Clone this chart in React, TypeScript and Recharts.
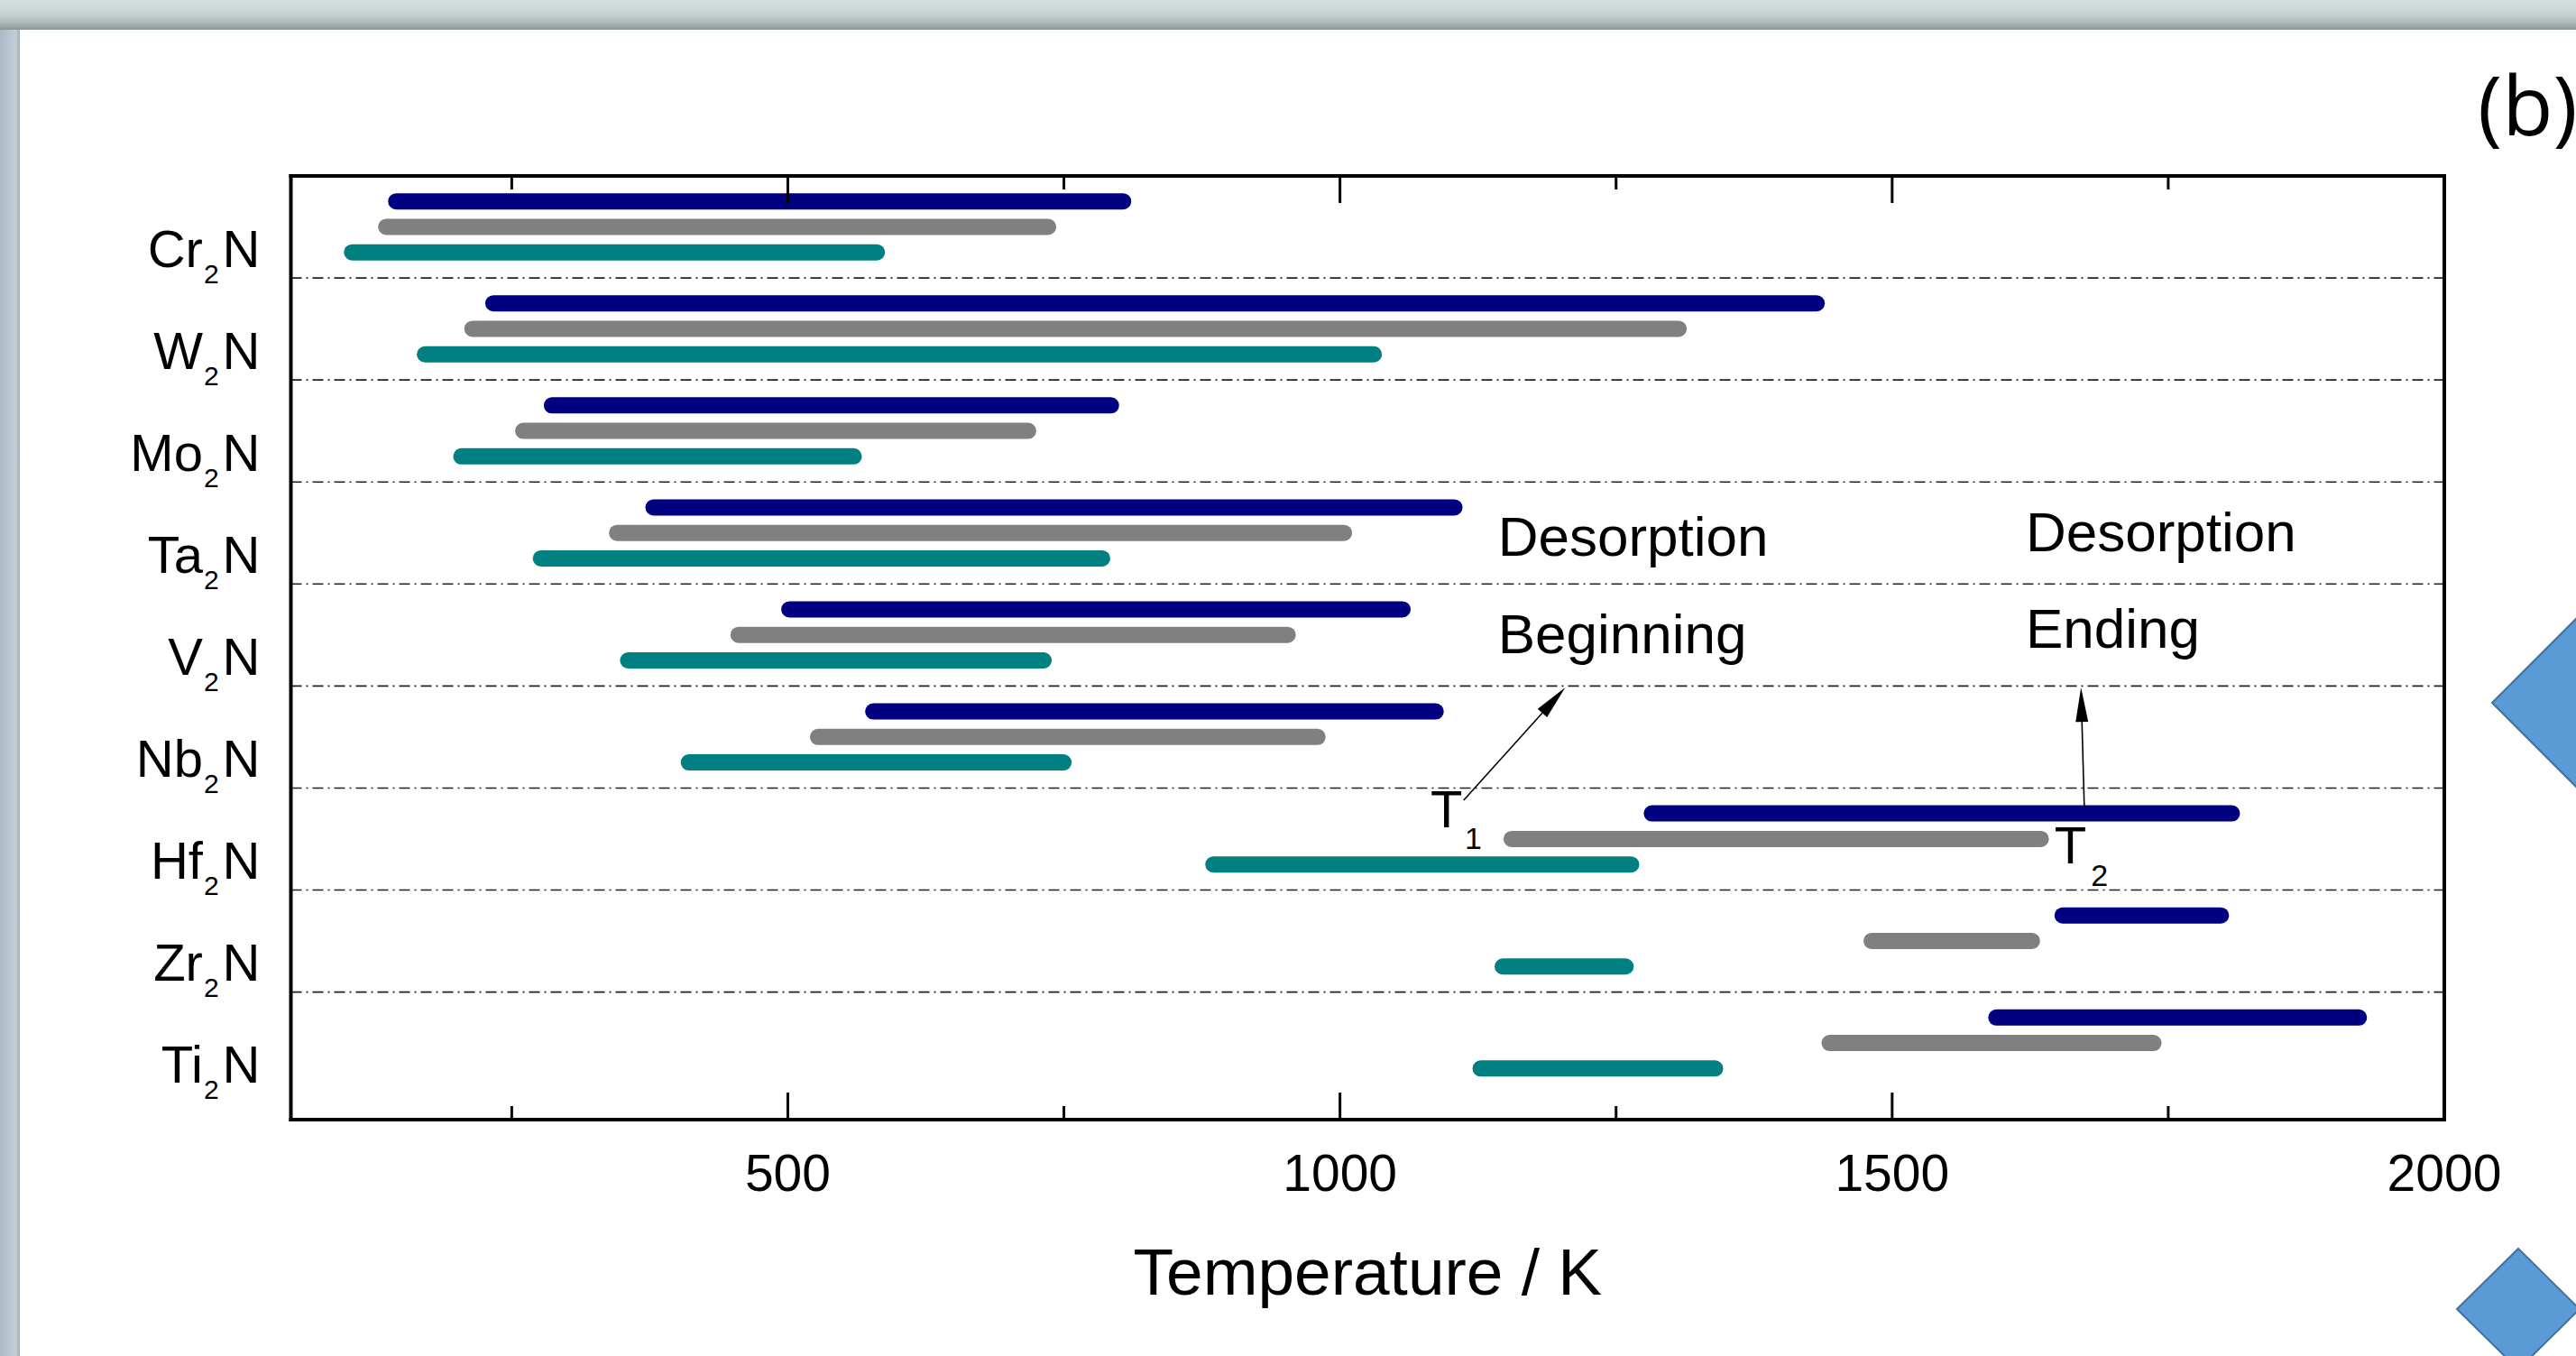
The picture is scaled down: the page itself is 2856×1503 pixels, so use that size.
import React from 'react';
import { ComposedChart, Bar, Cell, XAxis, YAxis, ReferenceLine, ReferenceDot } from 'recharts';

const categories = ['Cr', 'W', 'Mo', 'Ta', 'V', 'Nb', 'Hf', 'Zr', 'Ti'];
const navyStart = [138, 226, 279, 371, 494, 570, 1275, 1647, 1587];
const navyEnd = [811, 1439, 800, 1111, 1064, 1094, 1815, 1805, 1930];
const grayStart = [129, 207, 253, 338, 448, 520, 1148, 1474, 1436];
const grayEnd = [743, 1314, 725, 1011, 960, 987, 1642, 1634, 1744];
const tealStart = [98, 164, 197, 269, 348, 403, 878, 1140, 1120];
const tealEnd = [588, 1038, 567, 792, 739, 757, 1271, 1266, 1347];
const xTicks = [250, 500, 750, 1000, 1250, 1500, 1750, 2000];
const majorTicks = [500, 1000, 1500, 2000];
const xDomain = [50, 2000];

const series = [
  { start: navyStart, end: navyEnd, color: '#000080' },
  { start: grayStart, end: grayEnd, color: '#808080' },
  { start: tealStart, end: tealEnd, color: '#008080' },
];
const SLOTS = 4;
const yDomain = [0, categories.length * SLOTS + 1];
const data = categories.flatMap((c, i) =>
  series.map((s, k) => ({
    key: c + k,
    slot: i * SLOTS + k + 1,
    range: [s.start[i], s.end[i]],
    color: s.color,
  }))
);
const rowCenters = categories.map((_, i) => i * SLOTS + 2);
const separators = categories.slice(1).map((_, i) => (i + 1) * SLOTS);

const FONT = '"Liberation Sans", Arial, sans-serif';

const BottomTick = (props: any) => {
  const { x, y, payload } = props;
  const major = majorTicks.includes(payload.value);
  return (
    <g>
      <line x1={x} x2={x} y1={y} y2={y - (major ? 30 : 15)} stroke="#000" strokeWidth={3} />
      {major && (
        <text x={x} y={y + 79} textAnchor="middle" fontSize={57} fontFamily={FONT} fill="#000">
          {payload.value}
        </text>
      )}
    </g>
  );
};

const TopTick = (props: any) => {
  const { x, y, payload } = props;
  const major = majorTicks.includes(payload.value);
  return <line x1={x} x2={x} y1={y} y2={y + (major ? 30 : 15)} stroke="#000" strokeWidth={3} />;
};

const YTick = (props: any) => {
  const { x, y, payload } = props;
  const idx = Math.round((payload.value - 2) / SLOTS);
  const el = categories[idx];
  return (
    <text x={x - 34} y={y + 44} textAnchor="end" fontSize={58} fontFamily={FONT} fill="#000">
      <tspan>{el}</tspan>
      <tspan fontSize={30} dy={18} dx={1}>2</tspan>
      <tspan dy={-18} dx={4}>N</tspan>
    </text>
  );
};

const Arrow = (p: any) => {
  const { x1, y1, x2, y2 } = p;
  const dx = x2 - x1;
  const dy = y2 - y1;
  const len = Math.hypot(dx, dy) || 1;
  const ux = dx / len;
  const uy = dy / len;
  const hl = 38;
  const hw = 7;
  const bx = x2 - ux * hl;
  const by = y2 - uy * hl;
  return (
    <g>
      <line x1={x1} y1={y1} x2={bx} y2={by} stroke="#000" strokeWidth={1.6} />
      <polygon
        points={`${x2},${y2} ${bx - uy * hw},${by + ux * hw} ${bx + uy * hw},${by - ux * hw}`}
        fill="#000"
      />
    </g>
  );
};

const textShape = (txt: string, size: number) => (p: any) => (
  <text x={p.cx} y={p.cy} fontSize={size} fontFamily={FONT} fill="#000">
    {txt}
  </text>
);

const AxisTitle = (props: any) => {
  const { viewBox } = props;
  const cx = viewBox.x + viewBox.width / 2;
  return (
    <text x={cx} y={viewBox.y + 194} textAnchor="middle" fontSize={73} fontFamily={FONT} fill="#000">
      Temperature / K
    </text>
  );
};

const axisLineStyle = { stroke: '#000', strokeWidth: 4, strokeLinecap: 'square' as const };

export default function App() {
  return (
    <div style={{ position: 'absolute', left: 0, top: 0, width: 2856, height: 1503, background: '#fff', overflow: 'hidden' }}>
      <svg width={2856} height={1503} style={{ position: 'absolute', left: 0, top: 0 }}>
        <defs>
          <linearGradient id="band" x1="0" y1="0" x2="0" y2="1">
            <stop offset="0" stopColor="#d5e0e1" />
            <stop offset="0.45" stopColor="#c8d3d4" />
            <stop offset="0.75" stopColor="#adb8b9" />
            <stop offset="1" stopColor="#8b9696" />
          </linearGradient>
          <linearGradient id="strip" x1="0" y1="0" x2="1" y2="0">
            <stop offset="0" stopColor="#a9b9c6" />
            <stop offset="0.8" stopColor="#c3cfd8" />
            <stop offset="1" stopColor="#9fadb8" />
          </linearGradient>
        </defs>
        <rect x={0} y={0} width={2856} height={1503} fill="#ffffff" />
        <rect x={0} y={0} width={2856} height={33} fill="url(#band)" />
        <rect x={0} y={33} width={22} height={1470} fill="url(#strip)" />
        <polygon points="2763,779 2870,672 2977,779 2870,886" fill="#5b9bd5" stroke="#41719c" strokeWidth={2} />
        <polygon points="2724,1451 2792,1384 2860,1451 2792,1518" fill="#5b9bd5" stroke="#41719c" strokeWidth={2} />
        <text x={2747} y={150} fontSize={92} fontFamily='"Open Sans", sans-serif' fill="#000">(b)</text>
      </svg>
      <div style={{ position: 'absolute', left: 0, top: 0 }}>
        <ComposedChart
          width={2856}
          height={1503}
          layout="vertical"
          data={data}
          margin={{ top: 185, left: 172.5, right: 145, bottom: 62 }}
        >
          <XAxis
            xAxisId="bottom"
            orientation="bottom"
            type="number"
            domain={xDomain}
            ticks={xTicks}
            interval={0}
            height={200}
            tickSize={0}
            tickMargin={0}
            tickLine={false}
            axisLine={axisLineStyle}
            tick={<BottomTick />}
            allowDataOverflow
            label={<AxisTitle />}
          />
          <XAxis
            xAxisId="top"
            orientation="top"
            type="number"
            domain={xDomain}
            ticks={xTicks}
            interval={0}
            height={10}
            tickSize={0}
            tickMargin={0}
            tickLine={false}
            axisLine={axisLineStyle}
            tick={<TopTick />}
            allowDataOverflow
          />
          <YAxis
            yAxisId="left"
            dataKey="slot"
            type="number"
            domain={yDomain}
            ticks={rowCenters}
            interval={0}
            width={150}
            tickSize={0}
            tickMargin={0}
            tickLine={false}
            axisLine={axisLineStyle}
            tick={<YTick />}
            allowDataOverflow
          />
          <YAxis
            yAxisId="right"
            orientation="right"
            type="number"
            domain={yDomain}
            width={1}
            tick={false}
            tickLine={false}
            axisLine={axisLineStyle}
            allowDataOverflow
          />
          {separators.map((v) => (
            <ReferenceLine
              key={v}
              xAxisId="bottom"
              yAxisId="left"
              y={v}
              stroke="#222"
              strokeWidth={1.6}
              strokeDasharray="12 5 2 5"
            />
          ))}
          <Bar
            xAxisId="bottom"
            yAxisId="left"
            dataKey="range"
            barSize={18}
            radius={9}
            isAnimationActive={false}
          >
            {data.map((d) => (
              <Cell key={d.key} fill={d.color} />
            ))}
          </Bar>
          <ReferenceLine
            xAxisId="bottom"
            yAxisId="left"
            segment={[{ x: 1112, y: 24.48 }, { x: 1204, y: 20.06 }]}
            shape={Arrow}
          />
          <ReferenceLine
            xAxisId="bottom"
            yAxisId="left"
            segment={[{ x: 1674, y: 24.76 }, { x: 1671, y: 20.06 }]}
            shape={Arrow}
          />
          <ReferenceDot xAxisId="bottom" yAxisId="left" x={1143} y={14.9} r={0} shape={textShape('Desorption', 62)} />
          <ReferenceDot xAxisId="bottom" yAxisId="left" x={1143} y={18.7} r={0} shape={textShape('Beginning', 62)} />
          <ReferenceDot xAxisId="bottom" yAxisId="left" x={1621} y={14.72} r={0} shape={textShape('Desorption', 62)} />
          <ReferenceDot xAxisId="bottom" yAxisId="left" x={1621} y={18.5} r={0} shape={textShape('Ending', 62)} />
          <ReferenceDot xAxisId="bottom" yAxisId="left" x={1082} y={25.53} r={0} shape={textShape('T', 58)} />
          <ReferenceDot xAxisId="bottom" yAxisId="left" x={1113} y={26.39} r={0} shape={textShape('1', 34)} />
          <ReferenceDot xAxisId="bottom" yAxisId="left" x={1647} y={26.95} r={0} shape={textShape('T', 58)} />
          <ReferenceDot xAxisId="bottom" yAxisId="left" x={1680} y={27.84} r={0} shape={textShape('2', 34)} />
        </ComposedChart>
      </div>
    </div>
  );
}
